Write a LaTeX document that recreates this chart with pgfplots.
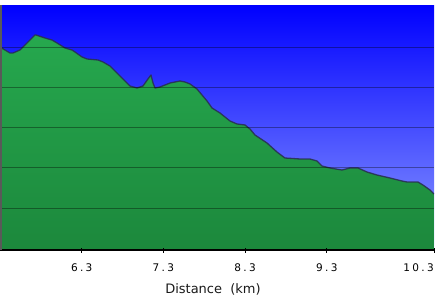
\documentclass[border=0pt]{standalone}
\usepackage{fontspec}
\usepackage{pgfplots}
\usepackage{pgfplotstable}
\pgfplotsset{compat=1.18}
\newfontfamily\tickfont[LetterSpace=22]{DejaVu Sans}
\newfontfamily\labelfont{DejaVu Sans}
\definecolor{skytop}{RGB}{0,0,255}
\definecolor{skybot}{RGB}{140,155,255}
\definecolor{grtop}{RGB}{38,168,78}
\definecolor{grbot}{RGB}{28,136,60}
\definecolor{edge}{RGB}{40,45,80}
\pgfplotstableread{
x h
5.300 203
5.422 197
5.459 197
5.545 200
5.667 210
5.728 215
5.741 215
5.851 212
5.936 210
5.998 207
6.096 202
6.181 200
6.218 198
6.304 193
6.365 191
6.500 190
6.561 188
6.646 184
6.769 174
6.891 164
6.977 162
7.050 164
7.111 171
7.148 175
7.173 167
7.197 162
7.258 163
7.381 167
7.503 169
7.564 168
7.626 166
7.711 161
7.834 149
7.895 142
7.993 137
8.115 129
8.201 126
8.299 125
8.360 121
8.421 115
8.568 107
8.690 98
8.788 92
8.972 91
9.094 91
9.180 89
9.241 84
9.339 82
9.486 80
9.584 82
9.682 82
9.792 78
9.914 75
10.074 72
10.220 69
10.282 68
10.416 68
10.477 65
10.563 60
10.612 56
}\profile
\begin{document}
\begin{tikzpicture}
\useasboundingbox (0,-46bp) rectangle (435bp,250bp);
\begin{axis}[
  at={(0,0)}, anchor=south west,
  scale only axis, width=434bp, height=245bp,
  xmin=5.3, xmax=10.612, ymin=0, ymax=245,
  axis background/.style={shade, top color=skytop, bottom color=skybot},
  axis line style={draw=none},
  axis on top=true,
  xtick={6.3,7.3,8.3,9.3},
  xticklabels={6.3,7.3,8.3,9.3},
  extra x ticks={10.612},
  extra x tick labels={10.3},
  extra x tick style={xticklabel style={anchor=north east, xshift=0bp}},
  xtick pos=bottom,
  tick align=center,
  major tick length=5bp,
  x tick style={black, line width=1bp},
  xticklabel style={font=\tickfont\fontsize{10.5bp}{12bp}\selectfont, inner sep=0pt, yshift=-11.5bp, text=black},
  ytick={42,83,123,163,203},
  yticklabels={},
  ytick pos=left,
  y tick style={draw=none},
  ymajorgrids,
  major grid style={black, opacity=0.36, line width=1bp},
  xlabel={Distance\ \ (km)},
  xlabel style={at={(axis description cs:0.5,0)}, anchor=north, yshift=-33bp, xshift=-4bp, inner sep=0pt, font=\labelfont\fontsize{13bp}{15bp}\selectfont, text=black!90},
]
\addplot[draw=none, top color=grtop, bottom color=grbot] table[x=x, y=h] {\profile} \closedcycle;
\addplot[edge, opacity=0.85, line width=1.3bp, line join=round] table[x=x, y=h] {\profile};
\end{axis}
\draw[black, line width=1.2bp] (0,0) -- (434bp,0);
\draw[black!65, line width=1.5bp] (0.75bp,0) -- (0.75bp,245bp);
\end{tikzpicture}
\end{document}
